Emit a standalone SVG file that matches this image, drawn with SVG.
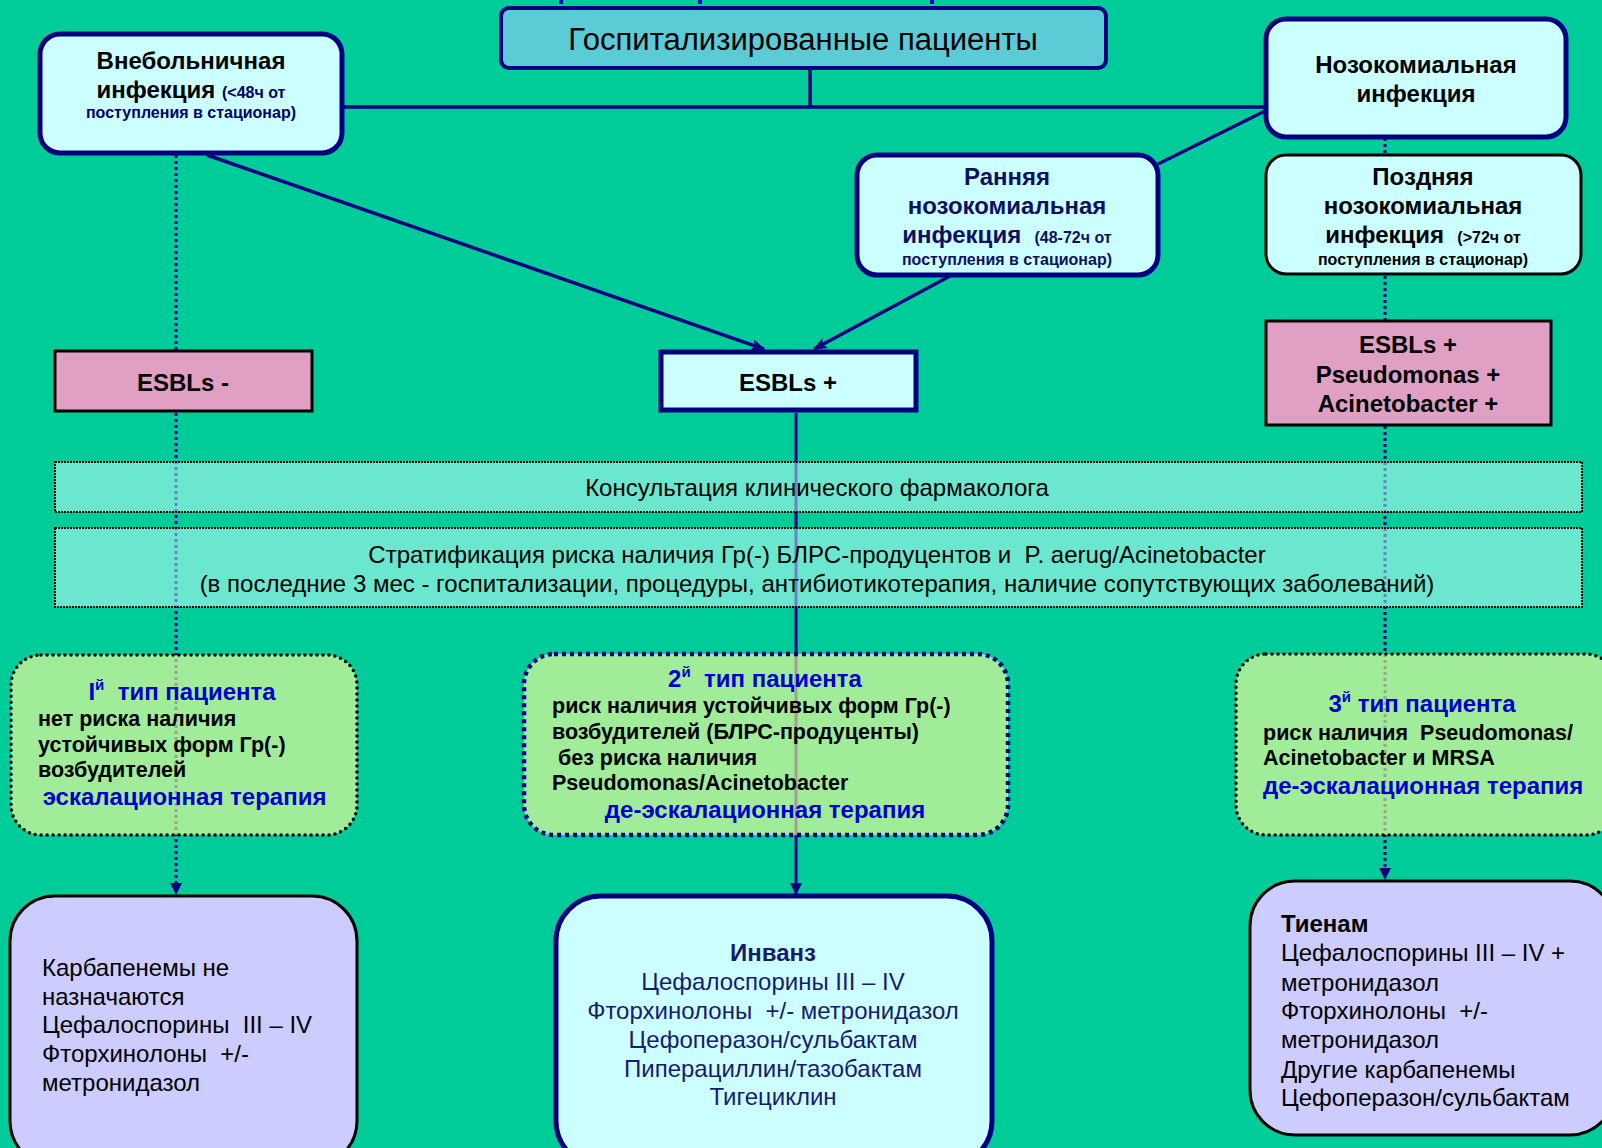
<svg xmlns="http://www.w3.org/2000/svg" width="1602" height="1148" viewBox="0 0 1602 1148">
<defs>
<marker id="arrL" viewBox="0 0 10 10" refX="9" refY="5" markerWidth="14" markerHeight="14" orient="auto" markerUnits="userSpaceOnUse">
<path d="M0,1 L10,5 L0,9 L2,5 z" fill="#000080"/>
</marker>
<marker id="arrS" viewBox="0 0 10 10" refX="9" refY="5" markerWidth="12" markerHeight="12" orient="auto" markerUnits="userSpaceOnUse">
<path d="M0,0 L10,5 L0,10 z" fill="#000080"/>
</marker>
</defs>
<style>
text{font-family:"Liberation Sans",Arial,sans-serif;white-space:pre;}
.b{font-weight:bold;}
.h{font-size:24px;font-weight:bold;}
.s{font-size:16px;font-weight:bold;}
.tl{font-size:21.5px;font-weight:bold;fill:#000;}
.bt{font-size:24px;}
.c{text-anchor:middle;}
.lt{fill:#CCFFFF;}
.conn{stroke:#000080;fill:none;}
.dot{stroke:#000080;stroke-width:3;stroke-dasharray:3 3;fill:none;}
.strat{fill:#CCFFFF;fill-opacity:0.52;stroke:#000;stroke-width:2;stroke-dasharray:2 1;}
.type{fill:#FFFF99;fill-opacity:0.63;}
.blue{fill:#0000CC;font-size:24px;font-weight:bold;}
</style>
<rect x="0" y="0" width="1602" height="1148" fill="#00CC99"/>
<g id="topmarks" fill="#0000CC">
<rect x="559" y="0" width="4" height="4"/>
<rect x="698" y="0" width="4" height="4"/>
<rect x="930" y="0" width="4" height="4"/>
</g>

<g id="connectors">
<line class="conn" x1="810" y1="69" x2="810" y2="107" stroke-width="3.5"/>
<line class="conn" x1="343" y1="107" x2="1265" y2="107" stroke-width="3.5"/>
<line class="conn" x1="1265" y1="111" x2="1158" y2="164" stroke-width="3.5"/>
<line class="conn" x1="207" y1="155" x2="764" y2="349" stroke-width="3.5" marker-end="url(#arrL)"/>
<line class="conn" x1="950" y1="276" x2="814" y2="349" stroke-width="3.5" marker-end="url(#arrL)"/>
<line class="conn" x1="796" y1="413" x2="796" y2="894" stroke-width="3" marker-end="url(#arrS)"/>
<line class="dot" x1="176" y1="155" x2="176" y2="884"/>
<path d="M170,883 L182,883 L176,895 z" fill="#000080"/>
<line class="dot" x1="1385" y1="138" x2="1385" y2="868"/>
<path d="M1379,868 L1391,868 L1385,880 z" fill="#000080"/>
</g>

<g id="title">
<rect x="501" y="8" width="605" height="60" rx="8" fill="#5BCBD6" stroke="#000080" stroke-width="4"/>
<text x="803" y="50" font-size="31" class="c" fill="#000">Госпитализированные пациенты</text>
</g>

<g id="vnebol">
<rect x="40" y="34" width="302" height="119" rx="20" class="lt" stroke="#000080" stroke-width="5"/>
<text x="191" y="69" class="h c" fill="#000">Внебольничная</text>
<text x="191" y="98" class="c"><tspan class="h" fill="#000">инфекция </tspan><tspan class="s" fill="#000066">(&lt;48ч от</tspan></text>
<text x="191" y="118" class="s c" fill="#000066">поступления в стационар)</text>
</g>

<g id="nozo">
<rect x="1266" y="19" width="300" height="118" rx="20" class="lt" stroke="#000080" stroke-width="5"/>
<text x="1416" y="73" class="h c" fill="#000">Нозокомиальная</text>
<text x="1416" y="102" class="h c" fill="#000">инфекция</text>
</g>

<g id="early">
<rect x="857" y="155" width="301" height="120" rx="20" class="lt" stroke="#000080" stroke-width="5"/>
<text x="1007" y="185" class="h c" fill="#101060">Ранняя</text>
<text x="1007" y="214" class="h c" fill="#101060">нозокомиальная</text>
<text x="1007" y="243" class="c" fill="#101060"><tspan class="h">инфекция  </tspan><tspan class="s">(48-72ч от</tspan></text>
<text x="1007" y="265" class="s c" fill="#101060">поступления в стационар)</text>
</g>

<g id="late">
<rect x="1266" y="155" width="315" height="119" rx="20" class="lt" stroke="#000" stroke-width="3"/>
<text x="1423" y="185" class="h c" fill="#000">Поздняя</text>
<text x="1423" y="214" class="h c" fill="#000">нозокомиальная</text>
<text x="1423" y="243" class="c" fill="#000"><tspan class="h">инфекция  </tspan><tspan class="s">(&gt;72ч от</tspan></text>
<text x="1423" y="265" class="s c" fill="#000">поступления в стационар)</text>
</g>

<g id="esbl-minus">
<rect x="55" y="351" width="257" height="60" fill="#E0A0C4" stroke="#000" stroke-width="3"/>
<line x1="176" y1="353" x2="176" y2="409" stroke="#EE99CC" stroke-width="3" stroke-dasharray="3 3"/>
<text x="183" y="391" class="h c" fill="#000">ESBLs -</text>
</g>

<g id="esbl-plus">
<rect x="661" y="352" width="255" height="58" class="lt" stroke="#000080" stroke-width="5"/>
<text x="788" y="391" class="h c" fill="#000">ESBLs +</text>
</g>

<g id="esbl-pa">
<rect x="1266" y="321" width="285" height="104" fill="#E0A0C4" stroke="#000" stroke-width="3"/>
<text x="1408" y="353" class="h c" fill="#000">ESBLs +</text>
<text x="1408" y="383" class="h c" fill="#000">Pseudomonas +</text>
<text x="1408" y="412" class="h c" fill="#000">Acinetobacter +</text>
</g>

<g id="consult">
<rect x="55" y="462" width="1527" height="50" class="strat"/>
<text x="817" y="496" font-size="24" class="c" fill="#000">Консультация клинического фармаколога</text>
</g>

<g id="strat">
<rect x="55" y="528" width="1527" height="79" class="strat"/>
<text x="817" y="563" font-size="24" class="c" fill="#000">Стратификация риска наличия Гр(-) БЛРС-продуцентов и  P. aerug/Acinetobacter</text>
<text x="817" y="592" font-size="24" class="c" fill="#000">(в последние 3 мес - госпитализации, процедуры, антибиотикотерапия, наличие сопутствующих заболеваний)</text>
</g>

<g id="type1">
<rect x="11" y="655" width="346" height="180" rx="30" class="type" stroke="#000" stroke-width="3.5" stroke-dasharray="0 6" stroke-linecap="round"/>
<text x="182" y="700" class="blue c">I<tspan font-size="15" dy="-10">й</tspan><tspan dy="10">  тип пациента</tspan></text>
<text x="38" y="726" class="tl">нет риска наличия</text>
<text x="38" y="752" class="tl">устойчивых форм Гр(-)</text>
<text x="38" y="777" class="tl">возбудителей</text>
<text x="36" y="805" class="blue"> эскалационная терапия</text>
</g>

<g id="type2">
<rect x="524" y="654" width="484" height="181" rx="30" class="type" stroke="#000080" stroke-width="4.5" stroke-dasharray="4 4"/>
<text x="765" y="687" class="blue c">2<tspan font-size="15" dy="-10">й</tspan><tspan dy="10">  тип пациента</tspan></text>
<text x="552" y="713" class="tl">риск наличия устойчивых форм Гр(-)</text>
<text x="552" y="739" class="tl">возбудителей (БЛРС-продуценты)</text>
<text x="552" y="765" class="tl"> без риска наличия</text>
<text x="552" y="790" class="tl">Pseudomonas/Acinetobacter</text>
<text x="765" y="818" class="blue c">де-эскалационная терапия</text>
</g>

<g id="type3">
<rect x="1236" y="654" width="380" height="181" rx="30" class="type" stroke="#000" stroke-width="3.5" stroke-dasharray="0 6" stroke-linecap="round"/>
<text x="1422" y="712" class="blue c">3<tspan font-size="15" dy="-10">й</tspan><tspan dy="10"> тип пациента</tspan></text>
<text x="1263" y="740" class="tl">риск наличия  Pseudomonas/</text>
<text x="1263" y="765" class="tl">Acinetobacter и MRSA</text>
<text x="1263" y="794" class="blue">де-эскалационная терапия</text>
</g>

<g id="carbapenem">
<rect x="10" y="896" width="347" height="270" rx="45" fill="#CCCCFF" stroke="#000" stroke-width="3"/>
<text x="42" y="976" class="bt" fill="#000">Карбапенемы не</text>
<text x="42" y="1005" class="bt" fill="#000">назначаются</text>
<text x="42" y="1033" class="bt" fill="#000">Цефалоспорины  III – IV</text>
<text x="42" y="1062" class="bt" fill="#000">Фторхинолоны  +/-</text>
<text x="42" y="1091" class="bt" fill="#000">метронидазол</text>
</g>

<g id="invanz">
<rect x="556" y="896" width="436" height="270" rx="45" class="lt" stroke="#000080" stroke-width="5"/>
<text x="773" y="961" class="bt c b" fill="#1A1A6E">Инванз</text>
<text x="773" y="990" class="bt c" fill="#1A1A6E">Цефалоспорины III – IV</text>
<text x="773" y="1019" class="bt c" fill="#1A1A6E">Фторхинолоны  +/- метронидазол</text>
<text x="773" y="1048" class="bt c" fill="#1A1A6E">Цефоперазон/сульбактам</text>
<text x="773" y="1077" class="bt c" fill="#1A1A6E">Пиперациллин/тазобактам</text>
<text x="773" y="1105" class="bt c" fill="#1A1A6E">Тигециклин</text>
</g>

<g id="tienam">
<rect x="1250" y="881" width="365" height="254" rx="45" fill="#CCCCFF" stroke="#000" stroke-width="3"/>
<text x="1281" y="932" class="bt b" fill="#000">Тиенам</text>
<text x="1281" y="961" class="bt" fill="#000">Цефалоспорины III – IV +</text>
<text x="1281" y="991" class="bt" fill="#000">метронидазол</text>
<text x="1281" y="1019" class="bt" fill="#000">Фторхинолоны  +/-</text>
<text x="1281" y="1048" class="bt" fill="#000">метронидазол</text>
<text x="1281" y="1078" class="bt" fill="#000">Другие карбапенемы</text>
<text x="1281" y="1106" class="bt" fill="#000">Цефоперазон/сульбактам</text>
</g>
</svg>
